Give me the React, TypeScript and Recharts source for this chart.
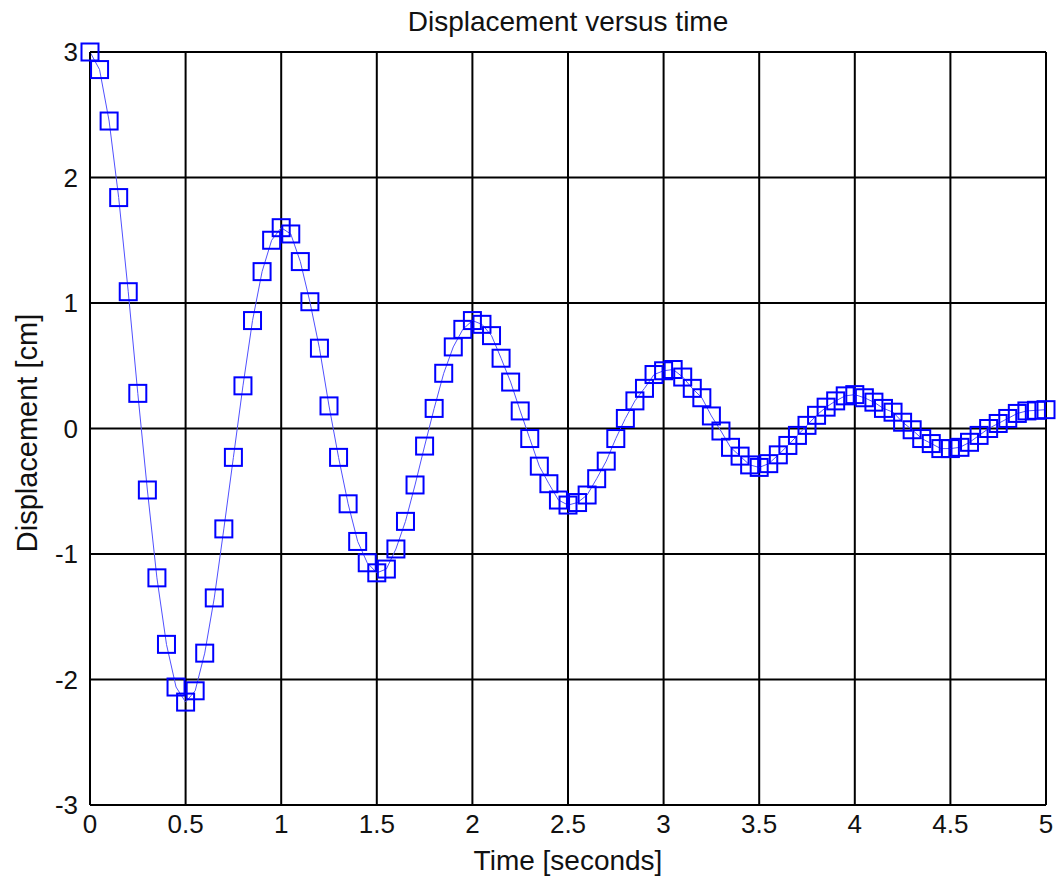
import React from "react";
import { LineChart, Line, XAxis, YAxis, CartesianGrid } from "recharts";

// time samples (seconds)
const times = [
  0, 0.05, 0.1, 0.15, 0.2, 0.25, 0.3, 0.35, 0.4, 0.45,
  0.5, 0.55, 0.6, 0.65, 0.7, 0.75, 0.8, 0.85, 0.9, 0.95,
  1, 1.05, 1.1, 1.15, 1.2, 1.25, 1.3, 1.35, 1.4, 1.45,
  1.5, 1.55, 1.6, 1.65, 1.7, 1.75, 1.8, 1.85, 1.9, 1.95,
  2, 2.05, 2.1, 2.15, 2.2, 2.25, 2.3, 2.35, 2.4, 2.45,
  2.5, 2.55, 2.6, 2.65, 2.7, 2.75, 2.8, 2.85, 2.9, 2.95,
  3, 3.05, 3.1, 3.15, 3.2, 3.25, 3.3, 3.35, 3.4, 3.45,
  3.5, 3.55, 3.6, 3.65, 3.7, 3.75, 3.8, 3.85, 3.9, 3.95,
  4, 4.05, 4.1, 4.15, 4.2, 4.25, 4.3, 4.35, 4.4, 4.45,
  4.5, 4.55, 4.6, 4.65, 4.7, 4.75, 4.8, 4.85, 4.9, 4.95,
  5,
];

// displacement (cm)
const displacement = [
  3.0, 2.86, 2.45, 1.84, 1.09, 0.28, -0.49, -1.19, -1.72, -2.06,
  -2.18, -2.09, -1.79, -1.35, -0.8, -0.23, 0.34, 0.86, 1.25, 1.5,
  1.6, 1.55, 1.33, 1.01, 0.64, 0.18, -0.23, -0.6, -0.9, -1.07,
  -1.15, -1.12, -0.96, -0.74, -0.45, -0.14, 0.16, 0.44, 0.65, 0.79,
  0.86, 0.83, 0.74, 0.56, 0.37, 0.14, -0.08, -0.3, -0.44, -0.57,
  -0.61, -0.59, -0.53, -0.4, -0.26, -0.08, 0.08, 0.22, 0.32, 0.43,
  0.46, 0.47, 0.41, 0.32, 0.245, 0.1, -0.02, -0.15, -0.22, -0.29,
  -0.31, -0.28, -0.21, -0.135, -0.055, 0.025, 0.105, 0.17, 0.22, 0.26,
  0.27, 0.245, 0.21, 0.16, 0.13, 0.05, -0.01, -0.08, -0.12, -0.16,
  -0.16, -0.15, -0.11, -0.055, 0.0, 0.04, 0.08, 0.12, 0.14, 0.145,
  0.15,
];

const xTicks = [0, 0.5, 1, 1.5, 2, 2.5, 3, 3.5, 4, 4.5, 5];
const yTicks = [-3, -2, -1, 0, 1, 2, 3];

const data = times.map((t, i) => ({ t, y: displacement[i] }));

const FONT = "'Liberation Sans', Arial, sans-serif";

const SquareDot = (props: any) => {
  const { cx, cy, index } = props;
  if (cx == null || cy == null) return null;
  return (
    <rect
      key={index}
      x={cx - 8.5}
      y={cy - 8.5}
      width={17}
      height={17}
      fill="none"
      stroke="#0000ff"
      strokeWidth={2}
    />
  );
};

export default function App() {
  return (
    <div
      style={{
        position: "absolute",
        left: 0,
        top: 0,
        width: 1060,
        height: 888,
        background: "#fff",
        fontFamily: FONT,
      }}
    >
      <div
        style={{
          position: "absolute",
          top: 6,
          left: 0,
          width: 1136,
          textAlign: "center",
          fontSize: 28,
          color: "#111",
        }}
      >
        Displacement versus time
      </div>
      <div
        style={{
          position: "absolute",
          top: 845,
          left: 0,
          width: 1136,
          textAlign: "center",
          fontSize: 28,
          color: "#111",
        }}
      >
        Time [seconds]
      </div>
      <div
        style={{
          position: "absolute",
          left: 27,
          top: 433,
          transform: "translate(-50%, -50%) rotate(-90deg)",
          whiteSpace: "nowrap",
          fontSize: 29,
          color: "#111",
        }}
      >
        Displacement [cm]
      </div>
      <LineChart
        width={1060}
        height={888}
        data={data}
        margin={{ top: 52, right: 14, left: 40, bottom: 53 }}
        style={{ position: "absolute", left: 0, top: 0 }}
      >
        <CartesianGrid stroke="#000" strokeWidth={2} />
        <XAxis
          dataKey="t"
          type="number"
          domain={[0, 5]}
          ticks={xTicks}
          interval={0}
          height={30}
          axisLine={{ stroke: "#000", strokeWidth: 2 }}
          tickLine={false}
          tick={{ fill: "#111", fontSize: 26, fontFamily: FONT }}
          tickMargin={4}
        />
        <YAxis
          type="number"
          domain={[-3, 3]}
          ticks={yTicks}
          interval={0}
          width={50}
          axisLine={{ stroke: "#000", strokeWidth: 2 }}
          tickLine={false}
          tick={{ fill: "#111", fontSize: 26, fontFamily: FONT }}
          tickMargin={6}
        />
        <Line
          type="linear"
          dataKey="y"
          stroke="#5050ff"
          strokeWidth={1}
          dot={<SquareDot />}
          activeDot={false}
          isAnimationActive={false}
        />
      </LineChart>
    </div>
  );
}
